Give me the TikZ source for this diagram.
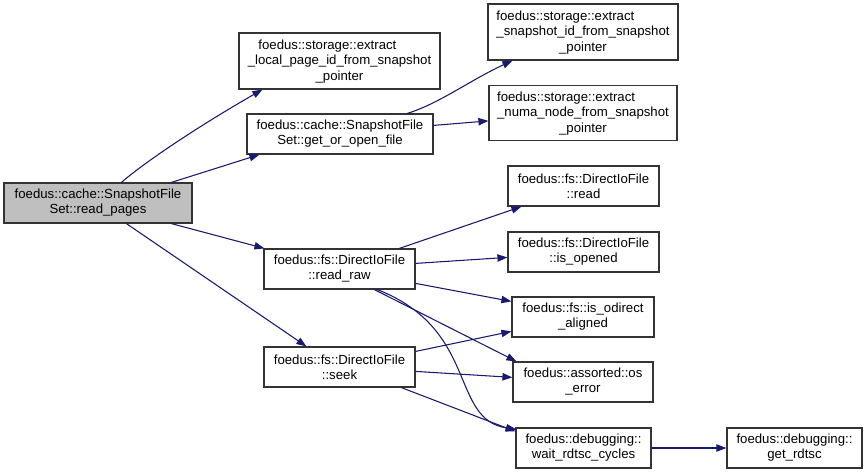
\documentclass[tikz,border=0pt]{standalone}
\usepackage{fontspec}
\setmainfont{Liberation Sans}
\usetikzlibrary{arrows.meta,calc}
\definecolor{edgecol}{HTML}{191970}
\definecolor{hlfill}{HTML}{BFBFBF}
\tikzset{
  fn/.style={draw=black!80, line width=0.9pt, fill=white, align=center, inner sep=0pt,
    font=\fontsize{9.9}{11.25}\selectfont},
  call/.style={draw=edgecol, line width=0.8pt, -{Triangle[length=7.5pt,width=5.5pt]}},
}
\newcommand{\lft}[2]{\begin{tabular}{@{}l@{}}#1\\#2\end{tabular}}
\begin{document}
\begin{tikzpicture}[x=0.75pt,y=-0.75pt]
\useasboundingbox[fill=white] (0,0) rectangle (867,474);
% nodes
\node[fn, fill=hlfill, minimum width=188*0.75pt, minimum height=40*0.75pt] (A) at (98,203) {foedus::cache::SnapshotFile\\Set::read\_pages};
\node[fn, minimum width=201*0.75pt, minimum height=56*0.75pt] (B) at (339.5,61) {\lft{\hspace*{8pt}foedus::storage::extract}{\_local\_page\_id\_from\_snapshot}\\\_pointer};
\node[fn, minimum width=186*0.75pt, minimum height=40*0.75pt] (C) at (340,134) {foedus::cache::SnapshotFile\\Set::get\_or\_open\_file};
\node[fn, minimum width=190*0.75pt, minimum height=56*0.75pt] (D) at (583,32) {\lft{foedus::storage::extract}{\_snapshot\_id\_from\_snapshot}\\\_pointer};
\node[fn, minimum width=188*0.75pt, minimum height=55*0.75pt] (E) at (583,113) {\lft{foedus::storage::extract}{\_numa\_node\_from\_snapshot}\\\_pointer};
\node[fn, minimum width=151*0.75pt, minimum height=40*0.75pt] (F) at (583.5,186) {foedus::fs::DirectIoFile\\::read};
\node[fn, minimum width=151*0.75pt, minimum height=40*0.75pt] (G) at (583.5,252) {foedus::fs::DirectIoFile\\::is\_opened};
\node[fn, minimum width=142*0.75pt, minimum height=40*0.75pt] (H) at (583,317) {foedus::fs::is\_odirect\\\_aligned};
\node[fn, minimum width=140*0.75pt, minimum height=40*0.75pt] (I) at (583,382) {foedus::assorted::os\\\_error};
\node[fn, minimum width=151*0.75pt, minimum height=40*0.75pt] (K) at (339.5,269) {foedus::fs::DirectIoFile\\::read\_raw};
\node[fn, minimum width=151*0.75pt, minimum height=40*0.75pt] (J) at (339.5,367) {foedus::fs::DirectIoFile\\::seek};
\node[fn, minimum width=135*0.75pt, minimum height=40*0.75pt] (L) at (583.5,448) {foedus::debugging::\\wait\_rdtsc\_cycles};
\node[fn, minimum width=135*0.75pt, minimum height=40*0.75pt] (M) at (794.5,448) {foedus::debugging::\\get\_rdtsc};
% edges
\draw[call] ($(A.north west)+(118,0)$) .. controls ($(A.north west)+(141,-20)$) and ($(B.south west)+(-39,36)$) .. ($(B.south west)+(24,0)$);
\draw[call] ($(A.north west)+(168,0)$) -- ($(C.south west)+(13,0)$);
\draw[call] ($(A.south west)+(168,0)$) -- ($(K.north west)+(1,0)$);
\draw[call] ($(A.south west)+(123,0)$) -- ($(J.north west)+(43,0)$);
\draw[call] ($(C.north west)+(161,0)$) .. controls ($(C.north west)+(193,-10)$) and ($(D.south west)+(-18,20)$) .. ($(D.south west)+(25,0)$);
\draw[call] ($(C.north east)+(0,12)$) -- ($(E.north west)+(0,36)$);
\draw[call] ($(K.north west)+(136,0)$) -- ($(F.south west)+(14,0)$);
\draw[call] ($(K.north east)+(0,15)$) -- ($(G.north west)+(0,26)$);
\draw[call] ($(K.north east)+(0,35)$) -- ($(H.north west)+(0,5)$);
\draw[call] ($(K.south west)+(111,0)$) -- ($(I.north west)+(4,0)$);
\draw[call] ($(K.south west)+(114,0)$) .. controls ($(K.south west)+(216,40)$) and ($(L.north west)+(-66,-8)$) .. ($(L.north west)+(1,2)$);
\draw[call] ($(J.north east)+(0,5)$) -- ($(H.north west)+(0,35)$);
\draw[call] ($(J.north east)+(0,25)$) -- ($(I.north west)+(0,16)$);
\draw[call] ($(J.south west)+(138,0)$) -- ($(L.north west)+(0,4)$);
\draw[call] (L.east) -- (M.west);
\end{tikzpicture}
\end{document}
